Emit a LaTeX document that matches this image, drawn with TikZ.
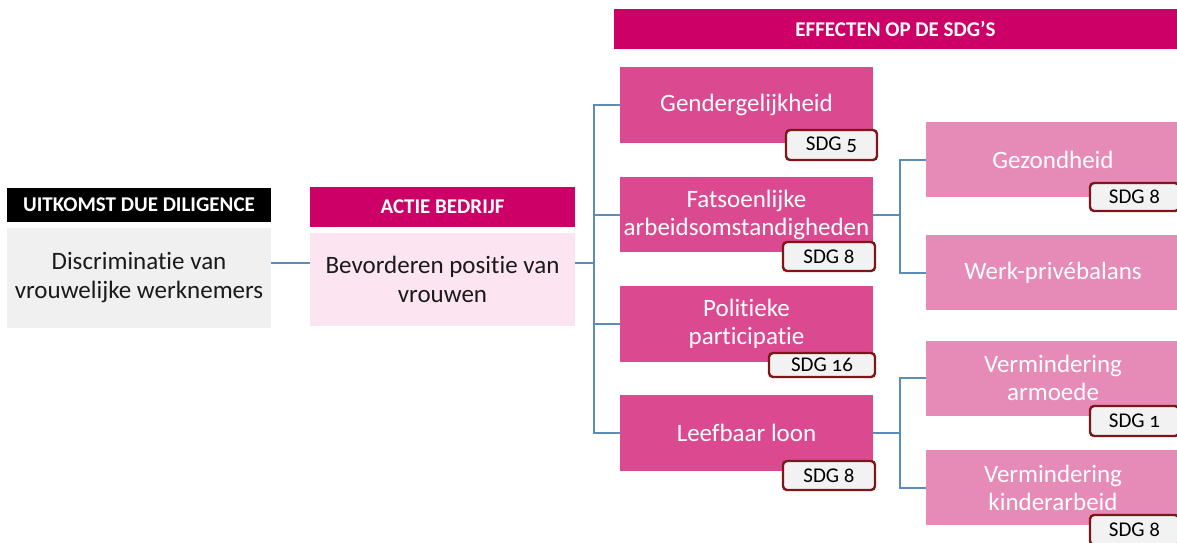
\documentclass[tikz,border=0pt]{standalone}
\usepackage{fontspec}
\setmainfont[Ligatures={NoCommon},Numbers=OldStyle]{Carlito}
\definecolor{hdr}{HTML}{CC0066}
\definecolor{dpink}{HTML}{DB4A90}
\definecolor{lpink}{HTML}{E68AB8}
\definecolor{palepink}{HTML}{FCE4F0}
\definecolor{grayb}{HTML}{F0F0F0}
\definecolor{conn}{HTML}{5B8DB8}
\definecolor{tagb}{HTML}{7F1518}
\definecolor{tagf}{HTML}{F2F2F2}
\definecolor{txt}{HTML}{1A1A1A}
\tikzset{
  box/.style={inner sep=0pt, align=center, font=\fontsize{25}{28}\selectfont},
  hdrbox/.style={box, text=white, font=\fontsize{21}{23}\selectfont\bfseries},
  effbox/.style={box, fill=dpink, text=white, minimum width=253pt, minimum height=76pt},
  subbox/.style={box, fill=lpink, text=white, minimum width=254pt, minimum height=75pt},
  tag/.style={draw=tagb, line width=2.4pt, fill=tagf, rounded corners=4pt, inner sep=0pt, font=\fontsize{21}{23}\selectfont, text=black},
  link/.style={draw=conn, line width=2pt}
}
\begin{document}
\begin{tikzpicture}[x=1pt,y=-1pt]
\useasboundingbox (0,0) rectangle (1177,542);
% left column
\node[hdrbox, fill=black, minimum width=264pt, minimum height=34pt] (uhead) at (139,205) {UITKOMST DUE DILIGENCE};
\node[box, fill=grayb, text=txt, minimum width=264pt, minimum height=100pt, font=\fontsize{25}{29}\selectfont] (gray) at (139,278) {Discriminatie van\\vrouwelijke werknemers};
% action
\node[hdrbox, fill=hdr, minimum width=265pt, minimum height=40pt] (ahead) at (442.5,207) {ACTIE BEDRIJF};
\node[box, fill=palepink, text=txt, minimum width=265pt, minimum height=93pt, font=\fontsize{25}{29}\selectfont] (abox) at (442.5,279.5) {Bevorderen positie van\\vrouwen};
% effects header
\node[hdrbox, fill=hdr, minimum width=563pt, minimum height=40pt] (ehead) at (895.5,29) {EFFECTEN OP DE SDG’S};
% effect boxes
\node[effbox] (gender) at (746.5,105) {Gendergelijkheid};
\node[effbox, minimum height=75pt] (fats) at (746.5,214.5) {Fatsoenlijke\\arbeidsomstandigheden};
\node[effbox] (pol) at (746.5,324) {Politieke\\participatie};
\node[effbox] (leef) at (746.5,433) {Leefbaar loon};
% sub boxes
\node[subbox] (gez) at (1053,159.5) {Gezondheid};
\node[subbox] (werk) at (1053,272.5) {Werk-privébalans};
\node[subbox] (arm) at (1053,378) {Vermindering\\armoede};
\node[subbox] (kind) at (1053,487.5) {Vermindering\\kinderarbeid};
% tags
\node[tag, minimum width=91pt, minimum height=30pt] (t1) at (831.5,145) {SDG 5};
\node[tag, minimum width=92pt, minimum height=29pt] (t2) at (829,256.5) {SDG 8};
\node[tag, minimum width=106pt, minimum height=24pt] (t3) at (822,365) {SDG 16};
\node[tag, minimum width=92pt, minimum height=29pt] (t4) at (829,475.5) {SDG 8};
\node[tag, minimum width=89pt, minimum height=28pt] (t5) at (1134.5,197) {SDG 8};
\node[tag, minimum width=89pt, minimum height=30pt] (t6) at (1134.5,421) {SDG 1};
\node[tag, minimum width=89pt, minimum height=30pt] (t7) at (1134.5,530) {SDG 8};
% junctions
\coordinate (j1) at (594,263);
\coordinate (j2) at (900,263);
% connectors
\draw[link] (gray.east |- j1) -- (abox.west |- j1);
\draw[link] (abox.east |- j1) -- (j1);
\draw[link] (gender.west) -- (gender.west -| j1) -- (leef.west -| j1) -- (leef.west);
\draw[link] (fats.west) -- (fats.west -| j1);
\draw[link] (pol.west) -- (pol.west -| j1);
\draw[link] (fats.east) -- (fats.east -| j2);
\draw[link] (gez.west) -- (gez.west -| j2) -- (werk.west -| j2) -- (werk.west);
\draw[link] (leef.east) -- (leef.east -| j2);
\draw[link] (arm.west) -- (arm.west -| j2) -- (kind.west -| j2) -- (kind.west);
\end{tikzpicture}
\end{document}
